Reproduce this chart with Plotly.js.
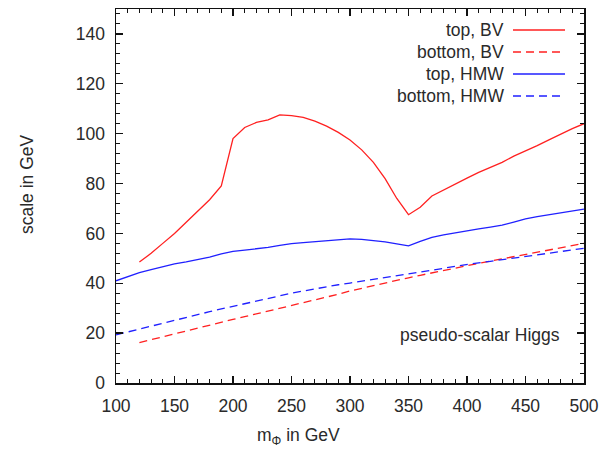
<!DOCTYPE html>
<html><head><meta charset="utf-8">
<script src="https://cdn.plot.ly/plotly-3.0.1.min.js"></script>
<style>body{margin:0;background:#fff}#c{width:611px;height:449px}</style>
</head><body><div id="c"></div>
<script>
const mTopBV = [120,130,140,150,160,170,180,190,200,210,220,230,240,250,260,270,280,290,300,310,320,330,340,350,360,370,380,390,400,410,420,430,440,450,460,470,480,490,500];
const topBV = [48.5,52,56,60,64.5,69,73.5,79,98,102.5,104.5,105.5,107.5,107.2,106.5,105,103,100.5,97.5,93.5,88.5,82,74,67.5,70.5,75,77.5,80,82.2,84.5,86.5,88.5,91,93,95.2,97.5,99.8,102,104];
const mBotBV = [120,130,140,150,160,170,180,190,200,210,220,230,240,250,260,270,280,290,300,310,320,330,340,350,360,370,380,390,400,410,420,430,440,450,460,470,480,490,500];
const botBV = [16.2,17.4,18.6,19.8,21,22.2,23.3,24.4,25.5,26.6,27.7,28.8,29.9,31,32.1,33.2,34.3,35.6,36.9,38,39.1,40.1,41.2,42.2,43.2,44.2,45.2,46.2,47.1,48,48.9,49.8,50.7,51.6,52.5,53.4,54.3,55.2,56];
const mHMW = [100,110,120,130,140,150,160,170,180,190,200,210,220,230,240,250,260,270,280,290,300,310,320,330,340,350,360,370,380,390,400,410,420,430,440,450,460,470,480,490,500];
const topHMW = [41,42.8,44.3,45.5,46.8,47.8,48.6,49.5,50.5,51.8,52.8,53.3,53.7,54.4,55.2,55.9,56.3,56.7,57,57.4,57.8,57.6,57.2,56.6,55.8,55,56.8,58.4,59.4,60.3,61,61.8,62.5,63.3,64.5,65.8,66.7,67.5,68.3,69,69.7];
const botHMW = [19.3,20.5,21.7,22.9,24.0,25.2,26.3,27.4,28.6,29.7,30.8,31.8,32.8,33.9,35.0,36.0,36.9,37.8,38.6,39.4,40.1,40.8,41.5,42.2,42.9,43.6,44.4,45.2,46.0,46.8,47.6,48.2,48.8,49.4,50.0,50.6,51.3,52.0,52.7,53.4,54.0];
const seriesNames = ['top, BV','bottom, BV','top, HMW','bottom, HMW'];
const xTicks = [100,150,200,250,300,350,400,450,500];
const yTicks = [0,20,40,60,80,100,120,140];

const RED = '#ff2020', BLUE = '#2020ff';
const DASH = '8px,5px';
const styles = [
  {color: RED, dash: 'solid'},
  {color: RED, dash: DASH},
  {color: BLUE, dash: 'solid'},
  {color: BLUE, dash: DASH}
];
const xs = [mTopBV, mBotBV, mHMW, mHMW];
const ys = [topBV, botBV, topHMW, botHMW];
const traces = ys.map((y,i)=>({
  x: xs[i], y: y, type:'scatter', mode:'lines', name: seriesNames[i],
  line:{color: styles[i].color, dash: styles[i].dash, width:1.3}, showlegend:false
}));

const F = 'Liberation Sans, Arial, Helvetica, sans-serif';
const TXT = '#2a2a2a';
const FS = 17.5;
const annotations = [];
const shapes = [];
// manual gnuplot-style legend (text then sample line)
const rowY = [30, 52, 74, 96];
const plotTop = 9, plotH = 374, plotL = 116, plotW = 468;
seriesNames.forEach((n,i)=>{
  const yp = 1 - (rowY[i]-plotTop)/plotH;
  annotations.push({xref:'paper', yref:'paper', x:(506-plotL)/plotW, y:yp, xanchor:'right', yanchor:'middle',
    text:n, showarrow:false, font:{family:F, size:FS, color:TXT}});
  shapes.push({type:'line', xref:'paper', yref:'paper', x0:(513-plotL)/plotW, x1:(565-plotL)/plotW, y0:yp, y1:yp,
    line:{color:styles[i].color, dash:styles[i].dash, width:1.3}});
});
annotations.push({xref:'paper', yref:'paper', x:(562-plotL)/plotW, y:1-(335-plotTop)/plotH, xanchor:'right', yanchor:'middle',
  text:'pseudo-scalar Higgs', showarrow:false, font:{family:F, size:FS, color:TXT}});
annotations.push({xref:'paper', yref:'paper', x:(298-plotL)/plotW, y:1-(437-plotTop)/plotH, xanchor:'center', yanchor:'middle',
  text:'m<sub>Φ</sub> in GeV', showarrow:false, font:{family:F, size:FS, color:TXT}});
annotations.push({xref:'paper', yref:'paper', x:(27-plotL)/plotW, y:1-(184-plotTop)/plotH, xanchor:'center', yanchor:'middle',
  text:'scale in GeV', textangle:-90, showarrow:false, font:{family:F, size:FS, color:TXT}});

const axisCommon = {
  showline:true, mirror:'ticks', linecolor:'#111', linewidth:1.5,
  ticks:'inside', ticklen:7, tickwidth:1.3, tickcolor:'#111',
  showgrid:false, zeroline:false,
  tickfont:{family:F, size:FS, color:TXT}
};
const layout = {
  width:611, height:449,
  margin:{l:116, r:27, t:9, b:66},
  paper_bgcolor:'#fff', plot_bgcolor:'#fff',
  showlegend:false,
  xaxis: Object.assign({}, axisCommon, {range:[100,500], tickvals:xTicks, ticktext:xTicks.map(String), ticklabelstandoff:6,
    minor:{dtick:10, tick0:100, ticks:'inside', ticklen:4, tickwidth:1, tickcolor:'#111', showgrid:false}}),
  yaxis: Object.assign({}, axisCommon, {range:[0,150], tickvals:yTicks, ticktext:yTicks.map(String), ticklabelstandoff:6,
    minor:{dtick:4, tick0:0, ticks:'inside', ticklen:4, tickwidth:1, tickcolor:'#111', showgrid:false}}),
  annotations, shapes
};
Plotly.newPlot('c', traces, layout, {staticPlot:true, displayModeBar:false});
</script></body></html>
